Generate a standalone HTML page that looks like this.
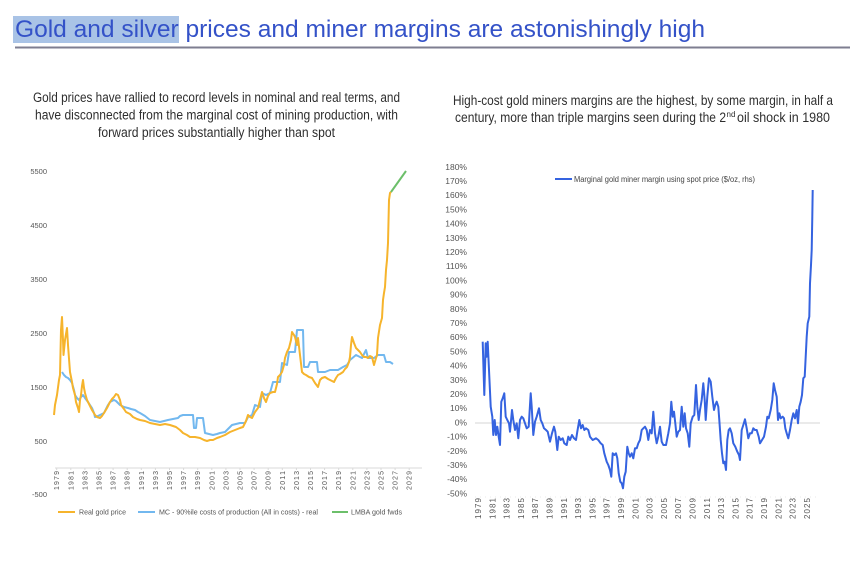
<!DOCTYPE html>
<html>
<head>
<meta charset="utf-8">
<style>
html,body{margin:0;padding:0;background:#fff;}
svg{display:block;}
text{font-family:"Liberation Sans",sans-serif;}
</style>
</head>
<body>
<svg width="860" height="570" viewBox="0 0 860 570" xmlns="http://www.w3.org/2000/svg">
<rect x="0" y="0" width="860" height="570" fill="#fff"/>

<!-- Title -->
<rect x="13" y="16" width="166" height="27" fill="#a9c3e6"/>
<text x="15" y="37" font-size="24" fill="#3452c8" textLength="690" lengthAdjust="spacingAndGlyphs">Gold and silver prices and miner margins are astonishingly high</text>
<line x1="15" y1="47.5" x2="850" y2="47.5" stroke="#7e7e90" stroke-width="2"/>

<!-- Left subtitle -->
<g font-size="13.5" fill="#2e2e2e">
<text x="33" y="102" textLength="367" lengthAdjust="spacingAndGlyphs">Gold prices have rallied to record levels in nominal and real terms, and</text>
<text x="35" y="119.5" textLength="363" lengthAdjust="spacingAndGlyphs">have disconnected from the marginal cost of mining production, with</text>
<text x="98" y="137" textLength="237" lengthAdjust="spacingAndGlyphs">forward prices substantially higher than spot</text>
</g>

<!-- Right subtitle -->
<g font-size="14" fill="#2e2e2e">
<text x="453" y="105" textLength="380" lengthAdjust="spacingAndGlyphs">High-cost gold miners margins are the highest, by some margin, in half a</text>
<text x="455" y="122" textLength="271" lengthAdjust="spacingAndGlyphs">century, more than triple margins seen during the 2</text>
<text x="726.5" y="117" font-size="8">nd</text>
<text x="737" y="122" textLength="93" lengthAdjust="spacingAndGlyphs">oil shock in 1980</text>
</g>

<!-- LEFT CHART -->
<g font-size="7.5" fill="#555" text-anchor="end">
<text x="47" y="174">5500</text>
<text x="47" y="228">4500</text>
<text x="47" y="282">3500</text>
<text x="47" y="336">2500</text>
<text x="47" y="390">1500</text>
<text x="47" y="444">500</text>
<text x="47" y="497">-500</text>
</g>
<line x1="55" y1="468" x2="422" y2="468" stroke="#d9d9d9" stroke-width="1"/>
<g stroke="#d9d9d9" stroke-width="1">
<line x1="56.7" y1="468" x2="56.7" y2="470"/><line x1="70.8" y1="468" x2="70.8" y2="470"/><line x1="84.9" y1="468" x2="84.9" y2="470"/><line x1="99" y1="468" x2="99" y2="470"/><line x1="113.1" y1="468" x2="113.1" y2="470"/><line x1="127.2" y1="468" x2="127.2" y2="470"/><line x1="141.3" y1="468" x2="141.3" y2="470"/><line x1="155.4" y1="468" x2="155.4" y2="470"/><line x1="169.5" y1="468" x2="169.5" y2="470"/><line x1="183.6" y1="468" x2="183.6" y2="470"/><line x1="197.7" y1="468" x2="197.7" y2="470"/><line x1="211.8" y1="468" x2="211.8" y2="470"/><line x1="225.9" y1="468" x2="225.9" y2="470"/><line x1="240" y1="468" x2="240" y2="470"/><line x1="254.1" y1="468" x2="254.1" y2="470"/><line x1="268.2" y1="468" x2="268.2" y2="470"/><line x1="282.3" y1="468" x2="282.3" y2="470"/><line x1="296.4" y1="468" x2="296.4" y2="470"/><line x1="310.5" y1="468" x2="310.5" y2="470"/><line x1="324.6" y1="468" x2="324.6" y2="470"/><line x1="338.7" y1="468" x2="338.7" y2="470"/><line x1="352.8" y1="468" x2="352.8" y2="470"/><line x1="366.9" y1="468" x2="366.9" y2="470"/><line x1="381" y1="468" x2="381" y2="470"/><line x1="395.1" y1="468" x2="395.1" y2="470"/><line x1="409.2" y1="468" x2="409.2" y2="470"/>
</g>
<g font-size="7" fill="#555" text-anchor="end">
<text transform="translate(59.2,471) rotate(-90)" textLength="19" lengthAdjust="spacing">1979</text>
<text transform="translate(73.3,471) rotate(-90)" textLength="19" lengthAdjust="spacing">1981</text>
<text transform="translate(87.4,471) rotate(-90)" textLength="19" lengthAdjust="spacing">1983</text>
<text transform="translate(101.5,471) rotate(-90)" textLength="19" lengthAdjust="spacing">1985</text>
<text transform="translate(115.6,471) rotate(-90)" textLength="19" lengthAdjust="spacing">1987</text>
<text transform="translate(129.7,471) rotate(-90)" textLength="19" lengthAdjust="spacing">1989</text>
<text transform="translate(143.8,471) rotate(-90)" textLength="19" lengthAdjust="spacing">1991</text>
<text transform="translate(157.9,471) rotate(-90)" textLength="19" lengthAdjust="spacing">1993</text>
<text transform="translate(172,471) rotate(-90)" textLength="19" lengthAdjust="spacing">1995</text>
<text transform="translate(186.1,471) rotate(-90)" textLength="19" lengthAdjust="spacing">1997</text>
<text transform="translate(200.2,471) rotate(-90)" textLength="19" lengthAdjust="spacing">1999</text>
<text transform="translate(214.3,471) rotate(-90)" textLength="19" lengthAdjust="spacing">2001</text>
<text transform="translate(228.4,471) rotate(-90)" textLength="19" lengthAdjust="spacing">2003</text>
<text transform="translate(242.5,471) rotate(-90)" textLength="19" lengthAdjust="spacing">2005</text>
<text transform="translate(256.6,471) rotate(-90)" textLength="19" lengthAdjust="spacing">2007</text>
<text transform="translate(270.7,471) rotate(-90)" textLength="19" lengthAdjust="spacing">2009</text>
<text transform="translate(284.8,471) rotate(-90)" textLength="19" lengthAdjust="spacing">2011</text>
<text transform="translate(298.9,471) rotate(-90)" textLength="19" lengthAdjust="spacing">2013</text>
<text transform="translate(313,471) rotate(-90)" textLength="19" lengthAdjust="spacing">2015</text>
<text transform="translate(327.1,471) rotate(-90)" textLength="19" lengthAdjust="spacing">2017</text>
<text transform="translate(341.2,471) rotate(-90)" textLength="19" lengthAdjust="spacing">2019</text>
<text transform="translate(355.3,471) rotate(-90)" textLength="19" lengthAdjust="spacing">2021</text>
<text transform="translate(369.4,471) rotate(-90)" textLength="19" lengthAdjust="spacing">2023</text>
<text transform="translate(383.5,471) rotate(-90)" textLength="19" lengthAdjust="spacing">2025</text>
<text transform="translate(397.6,471) rotate(-90)" textLength="19" lengthAdjust="spacing">2027</text>
<text transform="translate(411.7,471) rotate(-90)" textLength="19" lengthAdjust="spacing">2029</text>
</g>

<!-- Blue MC -->
<polyline fill="none" stroke="#72b8ef" stroke-width="2" stroke-linejoin="round" points="62,372 64,375 66,377 68,378 70,380 72,383 74,390 75,395 77,398 79,400 81,397 83,395 85,398 88,402 90,405 92,408 94,413 95,417 98,416 100,415 102,414 104,413 106,409 108,405 110,402 112,401 114,400 116,401 118,403 120,405 124,407 128,408 131,409 135,410 138,412 140,413 145,416 150,420 155,421 160,422 164,421 168,420 173,419 178,418 180,416 183,415 188,415 190,415 193,415 194,428 196,428 197,418 203,418 205,433 209,434 213,435 217,434 220,433 225,432 228,429 232,425 236,424 240,423 245,423 248,417 252,415 255,405 260,407 262,393 266,395 270,393 273,382 280,382 282,363 287,365 289,352 295,352 297,330 303,330 304,367 308,367 310,362 317,362 318,372 325,372 330,370 338,370 343,367 347,365 350,360 356,355 362,358 366,350 368,358 374,358 378,355 384,355 386,362 390,362 393,364"/>

<!-- Orange real gold -->
<polyline fill="none" stroke="#f6b42c" stroke-width="2" stroke-linejoin="round" points="54,415 55,405 57,395 59,380 60,375 61,330 62,317 63,340 63.5,355 65,340 67,328 68,345 70,372 72,382 73,388 75,395 76,402 78,408 79,412 80,400 81,395 82,386 83,380 84,388 85,393 87,400 88,402 90,406 92,410 95,415 97,417 100,418 102,416 104,413 107,408 110,402 112,399 114,397 116,394 118,395 120,400 121,405 124,409 126,412 130,414 133,417 137,419 140,420 145,421 150,423 155,424 160,425 165,424 170,425 173,426 176,427 180,430 183,433 187,435 190,437 195,437 200,438 204,440 207,441 210,440 213,440 217,438 220,437 225,435 230,432 235,430 240,428 243,427 246,421 248,415 250,417 252,418 255,412 258,408 260,400 262,392 264,398 266,402 268,396 270,393 273,392 275,392 277,384 278,377 280,375 282,372 284,365 285,358 287,352 289,348 291,340 292,332 294,335 295,337 297,345 298,338 300,355 302,372 304,374 306,375 309,377 312,378 315,383 318,387 320,380 322,378 325,377 328,379 330,380 332,381 334,382 336,378 338,375 340,374 343,372 345,369 347,367 349,362 350,357 351,345 352,337 354,343 356,348 358,350 360,352 362,355 364,357 366,357 368,358 370,356 372,357 374,365 376,358 377,355 378,338 380,325 382,318 383,300 384,293 385,287 386,270 387,260 388,243 389,200 390,193 391,192"/>

<!-- Green fwds -->
<polyline fill="none" stroke="#6cbf6a" stroke-width="2" points="391,192 406,171"/>

<!-- Left legend -->
<line x1="58" y1="512" x2="75" y2="512" stroke="#f6b42c" stroke-width="2"/>
<text x="79" y="514.5" font-size="7.5" fill="#555" textLength="47" lengthAdjust="spacingAndGlyphs">Real gold price</text>
<line x1="138" y1="512" x2="155" y2="512" stroke="#72b8ef" stroke-width="2"/>
<text x="159" y="514.5" font-size="7.5" fill="#555" textLength="159" lengthAdjust="spacingAndGlyphs">MC - 90%ile costs of production (All in costs) - real</text>
<line x1="332" y1="512" x2="348" y2="512" stroke="#6cbf6a" stroke-width="2"/>
<text x="351" y="514.5" font-size="7.5" fill="#555" textLength="51" lengthAdjust="spacingAndGlyphs">LMBA gold fwds</text>

<!-- RIGHT CHART -->
<g font-size="8.5" fill="#555" text-anchor="end">
<text x="467" y="170">180%</text>
<text x="467" y="184">170%</text>
<text x="467" y="198.2">160%</text>
<text x="467" y="212.4">150%</text>
<text x="467" y="226.6">140%</text>
<text x="467" y="240.8">130%</text>
<text x="467" y="255">120%</text>
<text x="467" y="269.2">110%</text>
<text x="467" y="283.4">100%</text>
<text x="467" y="297.6">90%</text>
<text x="467" y="311.8">80%</text>
<text x="467" y="326">70%</text>
<text x="467" y="340.2">60%</text>
<text x="467" y="354.4">50%</text>
<text x="467" y="368.6">40%</text>
<text x="467" y="382.8">30%</text>
<text x="467" y="397">20%</text>
<text x="467" y="411.2">10%</text>
<text x="467" y="425.4">0%</text>
<text x="467" y="439.6">-10%</text>
<text x="467" y="453.8">-20%</text>
<text x="467" y="468">-30%</text>
<text x="467" y="482.2">-40%</text>
<text x="467" y="496.4">-50%</text>
</g>
<line x1="475" y1="423" x2="820" y2="423" stroke="#d4d4d4" stroke-width="1"/>
<line x1="475" y1="497" x2="820" y2="497" stroke="#e8e8e8" stroke-width="1" stroke-dasharray="1,4"/>

<g font-size="8" fill="#555" text-anchor="end">
<text transform="translate(481,498) rotate(-90)" textLength="21" lengthAdjust="spacing">1979</text>
<text transform="translate(495.3,498) rotate(-90)" textLength="21" lengthAdjust="spacing">1981</text>
<text transform="translate(509.6,498) rotate(-90)" textLength="21" lengthAdjust="spacing">1983</text>
<text transform="translate(523.9,498) rotate(-90)" textLength="21" lengthAdjust="spacing">1985</text>
<text transform="translate(538.2,498) rotate(-90)" textLength="21" lengthAdjust="spacing">1987</text>
<text transform="translate(552.5,498) rotate(-90)" textLength="21" lengthAdjust="spacing">1989</text>
<text transform="translate(566.8,498) rotate(-90)" textLength="21" lengthAdjust="spacing">1991</text>
<text transform="translate(581.1,498) rotate(-90)" textLength="21" lengthAdjust="spacing">1993</text>
<text transform="translate(595.4,498) rotate(-90)" textLength="21" lengthAdjust="spacing">1995</text>
<text transform="translate(609.7,498) rotate(-90)" textLength="21" lengthAdjust="spacing">1997</text>
<text transform="translate(624,498) rotate(-90)" textLength="21" lengthAdjust="spacing">1999</text>
<text transform="translate(638.3,498) rotate(-90)" textLength="21" lengthAdjust="spacing">2001</text>
<text transform="translate(652.6,498) rotate(-90)" textLength="21" lengthAdjust="spacing">2003</text>
<text transform="translate(666.9,498) rotate(-90)" textLength="21" lengthAdjust="spacing">2005</text>
<text transform="translate(681.2,498) rotate(-90)" textLength="21" lengthAdjust="spacing">2007</text>
<text transform="translate(695.5,498) rotate(-90)" textLength="21" lengthAdjust="spacing">2009</text>
<text transform="translate(709.8,498) rotate(-90)" textLength="21" lengthAdjust="spacing">2011</text>
<text transform="translate(724.1,498) rotate(-90)" textLength="21" lengthAdjust="spacing">2013</text>
<text transform="translate(738.4,498) rotate(-90)" textLength="21" lengthAdjust="spacing">2015</text>
<text transform="translate(752.7,498) rotate(-90)" textLength="21" lengthAdjust="spacing">2017</text>
<text transform="translate(767,498) rotate(-90)" textLength="21" lengthAdjust="spacing">2019</text>
<text transform="translate(781.3,498) rotate(-90)" textLength="21" lengthAdjust="spacing">2021</text>
<text transform="translate(795.6,498) rotate(-90)" textLength="21" lengthAdjust="spacing">2023</text>
<text transform="translate(809.9,498) rotate(-90)" textLength="21" lengthAdjust="spacing">2025</text>
</g>

<!-- Right legend -->
<line x1="555" y1="179" x2="572" y2="179" stroke="#3563e0" stroke-width="2"/>
<text x="574" y="181.8" font-size="8" fill="#444" textLength="181" lengthAdjust="spacingAndGlyphs">Marginal gold miner margin using spot price ($/oz, rhs)</text>

<!-- Right series -->
<polyline fill="none" stroke="#3563e0" stroke-width="2" stroke-linejoin="round" points="482.7,341.7 484.3,395 485.7,343.3 486.7,356.7 487.7,341.7 489,370 490.7,406.7 492.3,416.7 493.3,435 494.7,420 496,435 497.3,426.7 498.7,436.7 500,445 501.3,401.7 502.7,398.3 504.3,393.3 505.7,416.7 507.3,420 509,423.3 510,431.7 512,410 513.3,420 515,430 516.7,423.3 518.3,438.3 520,420 521.7,416.7 523.3,418.3 525,423.3 526.7,428.3 528.7,426.7 530.7,393.3 531.7,406.7 533.3,435 535,421.7 536.7,416.7 539,408.3 540.7,420 542.3,423.3 544,428.3 546,430 547.7,431.7 550,441.7 552,433.3 554,426.7 555.3,431.7 557.3,450 558.7,436.7 560.7,440 562.7,438.3 564.3,443.3 566.7,445 568.3,436.7 570,440 572,435 574,438.3 576,440 577.3,431.7 579.3,420 581,428.3 582.7,425 584.3,430 586,428.3 588.3,430 590,436.7 592.7,440 596,438.3 598.3,440 600.7,443.3 602.7,445 604.3,453.3 606.7,461.7 608.3,465 610,470 611.3,476.7 612.7,453.3 614.3,455 616,453.3 617.3,458.3 618.7,473.3 620.3,481.7 621.7,483.3 623,488.3 624.3,476.7 625.7,471.7 627.3,446.7 628.7,453.3 630,456.7 631.7,453.3 633.3,458.3 635,448.3 636.7,448.3 638.3,443.3 640,440 641.7,430 643.3,428.3 645,426.7 646.7,430 648.3,440 650,430 651.7,433.3 653.3,411.7 655,433.3 656.7,443.3 658.3,436.7 660,426.7 661.7,441.7 663.3,445 666,445 668.3,433.3 670,423.3 671.3,401.7 672.7,416.7 674,411.7 675.3,423.3 676.7,436.7 678.3,431.7 680,430 681.7,406.7 683.3,426.7 684.7,413.3 686,428.3 687.7,433.3 689.3,446.7 690.7,423.3 692.7,416.7 694.3,415 696,385 697.3,406.7 698.7,420 700,410 701.7,400 703.3,383.3 704.7,400 705.7,420 707.3,396.7 709,378.3 710.7,381.7 712.3,396.7 714,410 715.3,405 716.7,401.7 718.3,406.7 719.3,420 720.7,440 722,453.3 723.3,463.3 724.7,461.7 726,470 727.3,440 728.7,430 730,428.3 731.7,433.3 733.3,443.3 735.3,446.7 737.3,451.7 739,455 740,460 741.7,430 743.3,425 745,419.3 746.7,428.3 748.3,438.3 750,433.3 751.7,433.3 753.3,428.3 755,430 756.7,430 758.7,436.7 760,443.3 762,440 764,436.7 766,426.7 767.3,416.7 768.7,418.3 770.7,410 772.3,400 773.7,383.3 775,390 776.7,396.7 778,420 779.3,413.3 780.7,418.3 782.7,416.7 784,418.3 785.3,428.3 786.7,433.3 788.3,438.3 790,430 791.7,420 793.3,413.3 795,418.3 796.7,410 798,423.3 799.3,406.7 800.7,401.7 802,395 803.3,378.3 804.7,376.7 805.7,356.7 806.7,336.7 807.7,323.3 809.3,316.7 810,283.3 811,265 811.7,250 812.3,216.7 812.7,190"/>
</svg>
</body>
</html>
